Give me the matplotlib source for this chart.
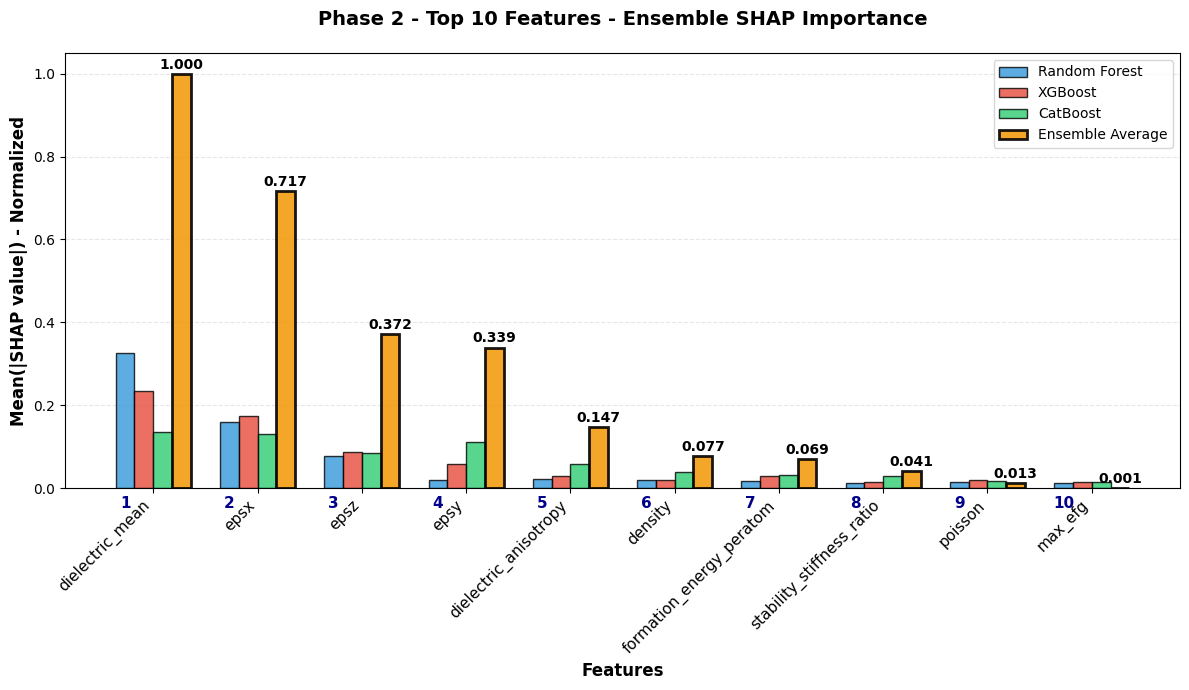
import numpy as np
import matplotlib
matplotlib.use("Agg")
import matplotlib.pyplot as plt

# top 10 features by ensemble SHAP importance (normalized)
features = [
    "dielectric_mean",
    "epsx",
    "epsz",
    "epsy",
    "dielectric_anisotropy",
    "density",
    "formation_energy_peratom",
    "stability_stiffness_ratio",
    "poisson",
    "max_efg",
]
rf_vals = [0.325, 0.160, 0.077, 0.020, 0.022, 0.020, 0.018, 0.012, 0.015, 0.012]
xgb_vals = [0.235, 0.175, 0.088, 0.057, 0.030, 0.020, 0.028, 0.015, 0.020, 0.015]
cat_vals = [0.135, 0.130, 0.085, 0.110, 0.057, 0.038, 0.032, 0.030, 0.018, 0.015]
ens_vals = [1.000, 0.717, 0.372, 0.339, 0.147, 0.077, 0.069, 0.041, 0.013, 0.001]

x = np.arange(len(features))
width = 0.18

fig, ax = plt.subplots(figsize=(11.89, 6.9), dpi=100)

ax.bar(x - 1.5 * width, rf_vals, width, label="Random Forest",
       color="#3498db", alpha=0.8, edgecolor="black", linewidth=1)
ax.bar(x - 0.5 * width, xgb_vals, width, label="XGBoost",
       color="#e74c3c", alpha=0.8, edgecolor="black", linewidth=1)
ax.bar(x + 0.5 * width, cat_vals, width, label="CatBoost",
       color="#2ecc71", alpha=0.8, edgecolor="black", linewidth=1)
ens = ax.bar(x + 1.5 * width, ens_vals, width, label="Ensemble Average",
             color="#f39c12", alpha=0.9, edgecolor="black", linewidth=2)

# value labels on ensemble bars
for bar, v in zip(ens, ens_vals):
    ax.text(bar.get_x() + bar.get_width() / 2, v + 0.005, "{:.3f}".format(v),
            ha="center", va="bottom", fontsize=10, fontweight="bold")

ax.set_xticks(x)
ax.set_xticklabels(features, rotation=45, ha="right", fontsize=11)

# rank numbers under each group
for i in range(len(features)):
    ax.text(x[i] - 1.5 * width, -0.037, str(i + 1), ha="center", va="center",
            fontsize=11, fontweight="bold", color="darkblue")

ax.set_ylim(0, 1.05)
ax.set_xlabel("Features", fontsize=12, fontweight="bold")
ax.set_ylabel("Mean(|SHAP value|) - Normalized", fontsize=12, fontweight="bold")
ax.set_title("Phase 2 - Top 10 Features - Ensemble SHAP Importance",
             fontsize=14, fontweight="bold", pad=20)
ax.legend(loc="upper right", fontsize=10)
ax.grid(axis="y", alpha=0.3, linestyle="--")
ax.set_axisbelow(True)

fig.subplots_adjust(left=65 / 1189, right=1180 / 1189, top=1 - 53 / 690, bottom=1 - 488 / 690)
fig.savefig("out.png", dpi=100)
